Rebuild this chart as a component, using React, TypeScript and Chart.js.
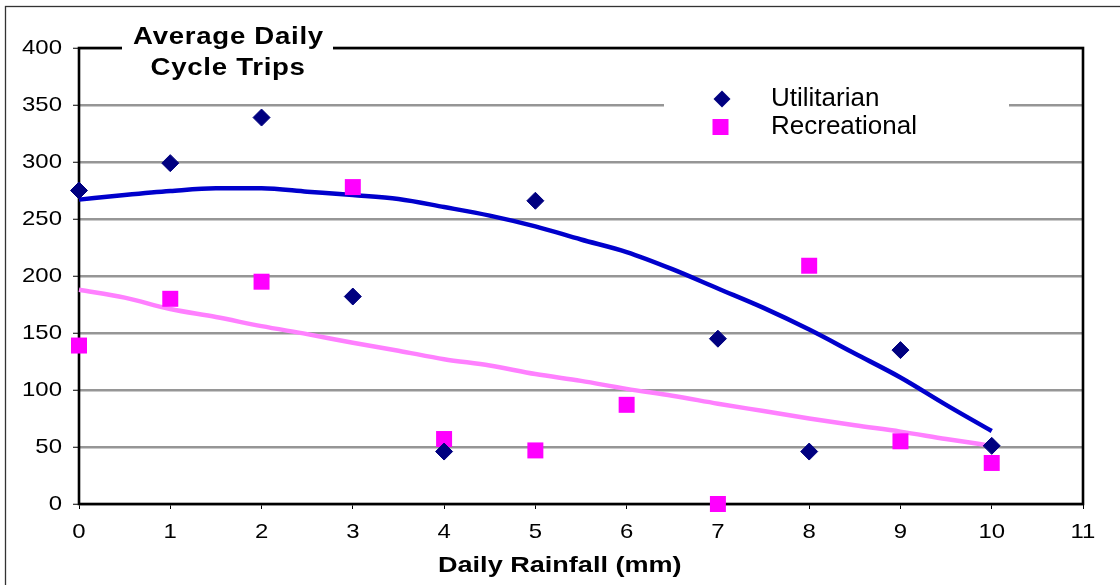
import React, { useEffect, useRef } from 'react';
import { Chart, registerables } from 'chart.js';

Chart.register(...registerables);

// ---- Data ----
const utilitarianX = [0, 1, 2, 3, 4, 5, 7, 8, 9, 10];
const utilitarianY = [275, 299, 339, 182, 46, 266, 145, 46, 135, 51];
const recreationalX = [0, 1, 2, 3, 4, 5, 6, 7, 8, 9, 10];
const recreationalY = [139, 180, 195, 278, 57, 47, 87, 0, 209, 55, 36];
const trendX = [0, 0.5, 1, 1.5, 2, 2.5, 3, 3.5, 4, 4.5, 5, 5.5, 6, 6.5, 7, 7.5, 8, 8.5, 9, 9.5, 10];
const utilitarianTrend = [267, 271, 274.5, 277, 277, 274, 271, 267.5, 260.5, 253, 243.5, 232, 221, 206, 189, 172, 153, 132, 111, 87, 64];
const recreationalTrend = [188, 181, 171, 164, 156, 149, 141.5, 134.5, 127, 121.5, 114, 108, 101, 95, 88, 81.5, 75, 69, 63.5, 57, 51];
const xMin = 0, xMax = 11, xStep = 1;
const yMin = 0, yMax = 400, yStep = 50;
const seriesNames = ['Utilitarian', 'Recreational'];
const chartTitle = ['Average Daily', 'Cycle Trips'];
const xTitle = 'Daily Rainfall (mm)';

const FONT = '"Liberation Sans", Arial, Helvetica, sans-serif';
const NAVY = '#000080';
const MAGENTA = '#FF00FF';
const BLUE_TREND = '#0000CC';
const PINK_TREND = '#FF80FF';
const TICK_SX = 1.14;

function stretchedText(ctx: any, text: string, x: number, y: number, sx: number, spacing = 0) {
  ctx.save();
  ctx.letterSpacing = spacing + 'px';
  ctx.translate(x, y);
  ctx.scale(sx, 1);
  ctx.fillText(text, 0, 0);
  ctx.restore();
}

const decor = {
  id: 'decor',
  beforeDraw(chart: any) {
    const ctx = chart.ctx;
    ctx.save();
    ctx.fillStyle = '#fff';
    ctx.fillRect(0, 0, chart.width, chart.height);
    ctx.strokeStyle = '#333';
    ctx.lineWidth = 1.3;
    ctx.strokeRect(5.5, 6.5, 1300, 800);
    ctx.restore();
    ctx.letterSpacing = '0px';
    // stretch axis tick labels horizontally, as in the reference rendering
    const orig = CanvasRenderingContext2D.prototype.fillText;
    ctx.fillText = function (text: string, x: number, y: number) {
      this.save();
      this.translate(x, y);
      this.scale(TICK_SX, 1);
      orig.call(this, text, 0, 0);
      this.restore();
    };
  },
  beforeDatasetsDraw(chart: any) {
    const { ctx, chartArea: a } = chart;
    delete ctx.fillText;
    ctx.save();
    ctx.strokeStyle = '#000';
    ctx.lineWidth = 2.6;
    ctx.strokeRect(a.left, a.top, a.right - a.left, a.bottom - a.top);
    ctx.fillStyle = '#fff';
    ctx.fillRect(122, 16, 211, 68);
    ctx.fillRect(664, 76, 345, 72);
    ctx.restore();
  },
  afterDraw(chart: any) {
    const ctx = chart.ctx;
    ctx.save();
    ctx.fillStyle = '#000';
    ctx.textBaseline = 'alphabetic';
    ctx.textAlign = 'left';
    // chart title
    ctx.font = `bold 23px ${FONT}`;
    stretchedText(ctx, chartTitle[0], 133, 43.5, 1.2, 0.6);
    stretchedText(ctx, chartTitle[1], 150.5, 74.5, 1.2, 0.6);
    // x axis title
    ctx.font = `bold 22px ${FONT}`;
    stretchedText(ctx, xTitle, 438, 572, 1.23, 0);
    // legend
    ctx.font = `26px ${FONT}`;
    stretchedText(ctx, seriesNames[0], 771, 106, 1, 0);
    stretchedText(ctx, seriesNames[1], 771, 134, 1, 0);
    // legend symbols
    ctx.fillStyle = NAVY;
    ctx.beginPath();
    ctx.moveTo(722 - 8.5, 99);
    ctx.lineTo(722, 99 - 8.5);
    ctx.lineTo(722 + 8.5, 99);
    ctx.lineTo(722, 99 + 8.5);
    ctx.closePath();
    ctx.fill();
    ctx.fillStyle = MAGENTA;
    ctx.fillRect(712.5, 119, 16, 16);
    ctx.restore();
  },
};

export default function App() {
  const ref = useRef<HTMLCanvasElement | null>(null);
  useEffect(() => {
    if (!ref.current) return;
    const chart = new Chart(ref.current, {
      type: 'scatter',
      data: {
        datasets: [
          {
            label: seriesNames[0],
            data: utilitarianX.map((x, i) => ({ x, y: utilitarianY[i] })),
            pointStyle: 'rectRot',
            pointRadius: 8.5,
            pointBorderWidth: 1,
            backgroundColor: NAVY,
            borderColor: NAVY,
            clip: false,
            order: 1,
          },
          {
            label: seriesNames[1],
            data: recreationalX.map((x, i) => ({ x, y: recreationalY[i] })),
            pointStyle: 'rect',
            pointRadius: 11.3,
            pointBorderWidth: 0,
            backgroundColor: MAGENTA,
            borderColor: MAGENTA,
            clip: false,
            order: 1,
          },
          {
            type: 'line',
            label: 'Utilitarian trend',
            data: trendX.map((x, i) => ({ x, y: utilitarianTrend[i] })),
            borderColor: BLUE_TREND,
            borderWidth: 4.5,
            pointRadius: 0,
            cubicInterpolationMode: 'monotone',
            fill: false,
            clip: false,
            order: 2,
          },
          {
            type: 'line',
            label: 'Recreational trend',
            data: trendX.map((x, i) => ({ x, y: recreationalTrend[i] })),
            borderColor: PINK_TREND,
            borderWidth: 4.5,
            pointRadius: 0,
            cubicInterpolationMode: 'monotone',
            fill: false,
            clip: false,
            order: 3,
          },
        ] as any,
      },
      options: {
        responsive: false,
        animation: false,
        events: [],
        layout: { padding: { left: 0, top: 48, right: 37, bottom: 0 } },
        plugins: {
          legend: { display: false },
          title: { display: false },
          tooltip: { enabled: false },
        },
        scales: {
          x: {
            type: 'linear',
            min: xMin,
            max: xMax,
            offset: false,
            afterFit: (s: any) => { s.height = 81; },
            border: { display: false },
            grid: {
              drawOnChartArea: false,
              drawTicks: true,
              tickLength: 5,
              tickColor: '#000',
              tickWidth: 1,
            },
            ticks: {
              stepSize: xStep,
              padding: 11,
              color: '#000',
              font: { family: FONT, size: 21 },
              maxRotation: 0,
            },
          },
          y: {
            type: 'linear',
            min: yMin,
            max: yMax,
            afterFit: (s: any) => { s.width = 79; },
            border: { display: false },
            grid: {
              color: '#969696',
              lineWidth: 2.5,
              drawTicks: true,
              tickLength: 6,
              tickColor: '#000',
              tickWidth: 1,
            },
            ticks: {
              stepSize: yStep,
              padding: 11,
              color: '#000',
              font: { family: FONT, size: 21 },
            },
          },
        },
      } as any,
      plugins: [decor],
    });
    return () => chart.destroy();
  }, []);
  return (
    <div style={{ position: 'fixed', left: 0, top: 0, width: 1120, height: 585, background: '#fff' }}>
      <canvas ref={ref} width={1120} height={585} style={{ display: 'block' }} />
    </div>
  );
}
